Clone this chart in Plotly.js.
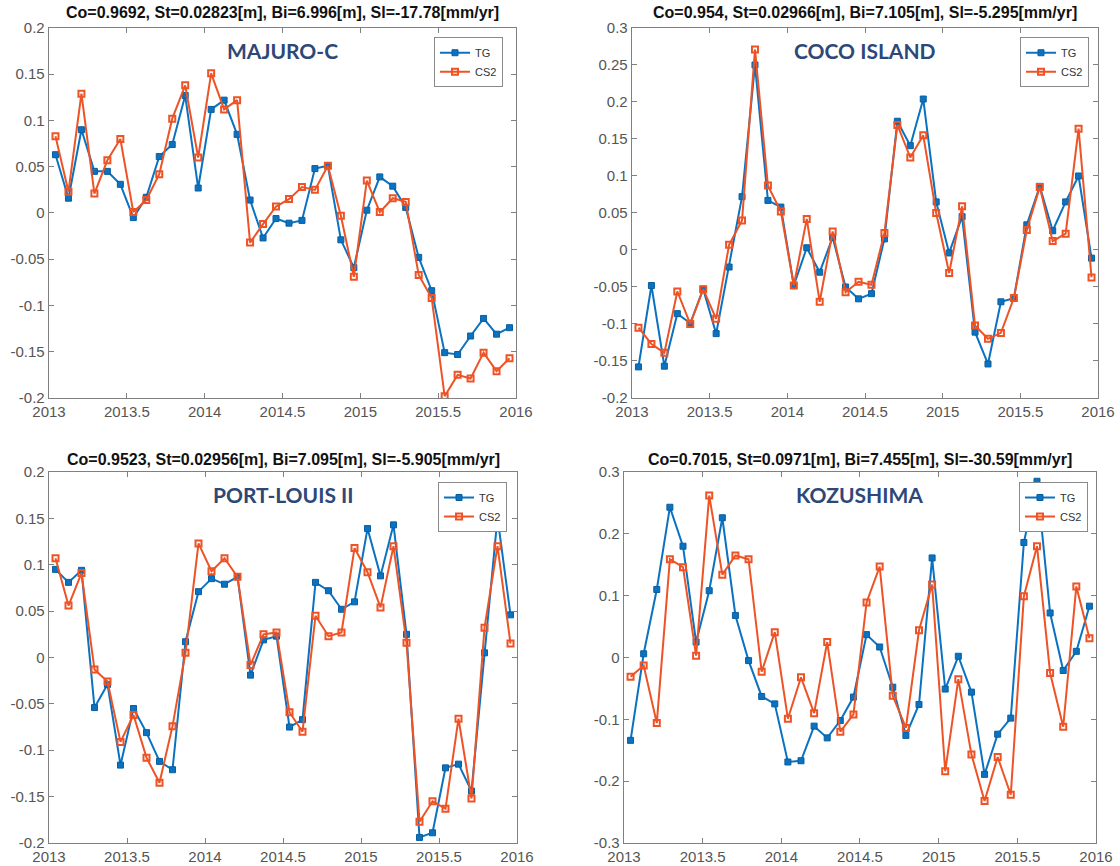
<!DOCTYPE html>
<html>
<head>
<meta charset="utf-8">
<script src="https://cdn.plot.ly/plotly-3.0.1.min.js"></script>
<style>
  html, body { margin: 0; padding: 0; background: #fff; }
  #chart { width: 1120px; height: 866px; }
</style>
</head>
<body>
<div id="chart"></div>
<script>
// Monthly sea-level anomalies [m]: tide gauge (TG) vs CryoSat-2 (CS2), 2013-2015
const months = [
  '2013-01','2013-02','2013-03','2013-04','2013-05','2013-06','2013-07','2013-08','2013-09','2013-10','2013-11','2013-12',
  '2014-01','2014-02','2014-03','2014-04','2014-05','2014-06','2014-07','2014-08','2014-09','2014-10','2014-11','2014-12',
  '2015-01','2015-02','2015-03','2015-04','2015-05','2015-06','2015-07','2015-08','2015-09','2015-10','2015-11','2015-12'
];

const stations = ['MAJURO-C', 'COCO ISLAND', 'PORT-LOUIS II', 'KOZUSHIMA'];
const stats = [
  'Co=0.9692, St=0.02823[m], Bi=6.996[m], Sl=-17.78[mm/yr]',
  'Co=0.954, St=0.02966[m], Bi=7.105[m], Sl=-5.295[mm/yr]',
  'Co=0.9523, St=0.02956[m], Bi=7.095[m], Sl=-5.905[mm/yr]',
  'Co=0.7015, St=0.0971[m], Bi=7.455[m], Sl=-30.59[mm/yr]'
];

const majuroTG  = [0.063, 0.016, 0.090, 0.045, 0.045, 0.031, -0.005, 0.017, 0.061, 0.074, 0.127, 0.027,
                   0.112, 0.122, 0.085, 0.014, -0.027, -0.006, -0.011, -0.008, 0.048, 0.051, -0.029, -0.059,
                   0.003, 0.039, 0.029, 0.006, -0.048, -0.084, -0.151, -0.153, -0.133, -0.114, -0.131, -0.124];
const majuroCS2 = [0.083, 0.023, 0.129, 0.021, 0.057, 0.080, 0.001, 0.014, 0.042, 0.102, 0.138, 0.060,
                   0.151, 0.112, 0.122, -0.032, -0.012, 0.007, 0.015, 0.028, 0.025, 0.051, -0.003, -0.069,
                   0.035, 0.001, 0.016, 0.012, -0.067, -0.092, -0.198, -0.175, -0.179, -0.151, -0.171, -0.157];

const cocoTG  = [-0.158, -0.048, -0.157, -0.086, -0.099, -0.053, -0.113, -0.023, 0.072, 0.250, 0.067, 0.058,
                 -0.048, 0.003, -0.030, 0.017, -0.050, -0.066, -0.059, 0.015, 0.174, 0.141, 0.204, 0.065,
                 -0.004, 0.045, -0.111, -0.154, -0.070, -0.065, 0.034, 0.086, 0.026, 0.065, 0.100, -0.011];
const cocoCS2 = [-0.105, -0.127, -0.139, -0.056, -0.100, -0.053, -0.093, 0.007, 0.040, 0.271, 0.087, 0.052,
                 -0.048, 0.042, -0.070, 0.025, -0.057, -0.043, -0.047, 0.023, 0.169, 0.125, 0.155, 0.050,
                 -0.031, 0.059, -0.102, -0.120, -0.112, -0.065, 0.027, 0.085, 0.012, 0.022, 0.164, -0.037];

const portLouisTG  = [0.095, 0.081, 0.094, -0.054, -0.029, -0.116, -0.055, -0.081, -0.112, -0.121, 0.017, 0.071,
                      0.085, 0.079, 0.087, -0.019, 0.019, 0.023, -0.075, -0.067, 0.081, 0.072, 0.052, 0.060,
                      0.139, 0.088, 0.143, 0.025, -0.194, -0.189, -0.119, -0.115, -0.144, 0.005, 0.151, 0.046];
const portLouisCS2 = [0.107, 0.056, 0.091, -0.013, -0.026, -0.091, -0.062, -0.108, -0.135, -0.074, 0.005, 0.123,
                      0.093, 0.107, 0.087, -0.008, 0.025, 0.027, -0.059, -0.080, 0.045, 0.023, 0.027, 0.118,
                      0.092, 0.054, 0.120, 0.016, -0.177, -0.155, -0.163, -0.066, -0.152, 0.032, 0.120, 0.015];

const kozushimaTG  = [-0.134, 0.006, 0.110, 0.243, 0.180, 0.025, 0.108, 0.226, 0.068, -0.005, -0.063, -0.075,
                      -0.169, -0.167, -0.111, -0.130, -0.102, -0.064, 0.037, 0.017, -0.048, -0.126, -0.076, 0.161,
                      -0.051, 0.002, -0.056, -0.189, -0.124, -0.098, 0.186, 0.285, 0.072, -0.021, 0.010, 0.083];
const kozushimaCS2 = [-0.031, -0.013, -0.106, 0.159, 0.146, 0.003, 0.262, 0.134, 0.165, 0.159, -0.023, 0.041,
                      -0.099, -0.032, -0.090, 0.025, -0.120, -0.092, 0.089, 0.147, -0.062, -0.114, 0.044, 0.118,
                      -0.184, -0.035, -0.157, -0.232, -0.161, -0.222, 0.099, 0.180, -0.025, -0.112, 0.115, 0.031];

// Tick positions and labels
const xTickVals = [2013, 2013.5, 2014, 2014.5, 2015, 2015.5, 2016];
const xTickText = ['2013', '2013.5', '2014', '2014.5', '2015', '2015.5', '2016'];
const yTickVals02 = [-0.2, -0.15, -0.1, -0.05, 0, 0.05, 0.1, 0.15, 0.2];
const yTickText02 = ['-0.2', '-0.15', '-0.1', '-0.05', '0', '0.05', '0.1', '0.15', '0.2'];
const yTickValsCoco = [-0.2, -0.15, -0.1, -0.05, 0, 0.05, 0.1, 0.15, 0.2, 0.25, 0.3];
const yTickTextCoco = ['-0.2', '-0.15', '-0.1', '-0.05', '0', '0.05', '0.1', '0.15', '0.2', '0.25', '0.3'];
const yTickValsKoz = [-0.3, -0.2, -0.1, 0, 0.1, 0.2, 0.3];
const yTickTextKoz = ['-0.3', '-0.2', '-0.1', '0', '0.1', '0.2', '0.3'];

// Each sample sits at the middle of its month, in decimal years
const t = months.map(m => {
  const [y, mo] = m.split('-').map(Number);
  return y + (mo - 0.5) / 12;
});

const BLUE = '#0a72c0';
const ORANGE = '#ee5326';
const AXIS = '#808080';
const TICKFONT = { family: 'Liberation Sans, Arial, sans-serif', size: 15, color: '#555' };

const panels = [
  { tg: majuroTG, cs: majuroCS2, yr: [-0.2, 0.2], yv: yTickVals02, yt: yTickText02 },
  { tg: cocoTG, cs: cocoCS2, yr: [-0.2, 0.3], yv: yTickValsCoco, yt: yTickTextCoco },
  { tg: portLouisTG, cs: portLouisCS2, yr: [-0.2, 0.2], yv: yTickVals02, yt: yTickText02 },
  { tg: kozushimaTG, cs: kozushimaCS2, yr: [-0.3, 0.3], yv: yTickValsKoz, yt: yTickTextKoz }
];

// Plot-area placement of the four panels (paper fractions)
const xDomains = [[0.04375, 0.46071], [0.56429, 0.98036], [0.04375, 0.46161], [0.55714, 0.97857]];
const yDomains = [[0.54042, 0.96767], [0.54042, 0.96767], [0.02656, 0.45497], [0.02656, 0.45497]];
const legendPos = [[0.4491, 0.957], [0.9723, 0.957], [0.4527, 0.4434], [0.9714, 0.4434]];
const titleY = [0.986, 0.986, 0.469, 0.469];

const data = [];
const layout = {
  width: 1120, height: 866,
  margin: { l: 0, r: 0, t: 0, b: 0 },
  paper_bgcolor: '#fff', plot_bgcolor: '#fff',
  annotations: []
};

panels.forEach((p, k) => {
  const sfx = k === 0 ? '' : String(k + 1);
  const legendId = 'legend' + sfx;
  data.push({
    x: t, y: p.tg, name: 'TG', type: 'scatter', mode: 'lines+markers',
    xaxis: 'x' + sfx, yaxis: 'y' + sfx, legend: legendId,
    line: { color: BLUE, width: 2 },
    marker: { symbol: 'square', size: 6, color: BLUE, line: { color: '#0a5f9e', width: 1 } }
  });
  data.push({
    x: t, y: p.cs, name: 'CS2', type: 'scatter', mode: 'lines+markers',
    xaxis: 'x' + sfx, yaxis: 'y' + sfx, legend: legendId,
    line: { color: ORANGE, width: 2 },
    marker: { symbol: 'square-open', size: 6, color: ORANGE, line: { color: ORANGE, width: 2 } }
  });

  layout['xaxis' + sfx] = {
    domain: xDomains[k], range: [2013, 2016], anchor: 'y' + sfx,
    tickmode: 'array', tickvals: xTickVals, ticktext: xTickText,
    ticks: 'inside', ticklen: 5, tickcolor: AXIS, tickwidth: 1,
    showline: true, linecolor: AXIS, linewidth: 1.3, mirror: 'ticks',
    showgrid: false, zeroline: false, tickfont: TICKFONT
  };
  layout['yaxis' + sfx] = {
    domain: yDomains[k], range: p.yr, anchor: 'x' + sfx,
    tickmode: 'array', tickvals: p.yv, ticktext: p.yt,
    ticks: 'inside', ticklen: 5, tickcolor: AXIS, tickwidth: 1,
    showline: true, linecolor: AXIS, linewidth: 1.3, mirror: 'ticks',
    showgrid: false, zeroline: false, tickfont: TICKFONT
  };
  layout[legendId] = {
    x: legendPos[k][0], y: legendPos[k][1], xanchor: 'right', yanchor: 'top',
    xref: 'paper', yref: 'paper',
    bgcolor: '#fff', bordercolor: '#8a8a8a', borderwidth: 1,
    font: { family: 'Liberation Sans, Arial, sans-serif', size: 11, color: '#333' },
    itemwidth: 30, tracegroupgap: 0
  };

  const xc = (xDomains[k][0] + xDomains[k][1]) / 2;
  layout.annotations.push({
    text: '<b>' + stats[k] + '</b>', xref: 'paper', yref: 'paper',
    x: xc, y: titleY[k], xanchor: 'center', yanchor: 'middle', showarrow: false,
    font: { family: 'Liberation Sans, Arial, sans-serif', size: 16, color: '#111' }
  });
  layout.annotations.push({
    text: '<b>' + stations[k] + '</b>', xref: 'x' + sfx + ' domain', yref: 'y' + sfx + ' domain',
    x: 0.5, y: 0.938, xanchor: 'center', yanchor: 'middle', showarrow: false,
    font: { family: 'Lato, Open Sans, sans-serif', size: 21, color: '#2d4877' }
  });
});

Plotly.newPlot('chart', data, layout, { displayModeBar: false, staticPlot: true });
</script>
</body>
</html>
